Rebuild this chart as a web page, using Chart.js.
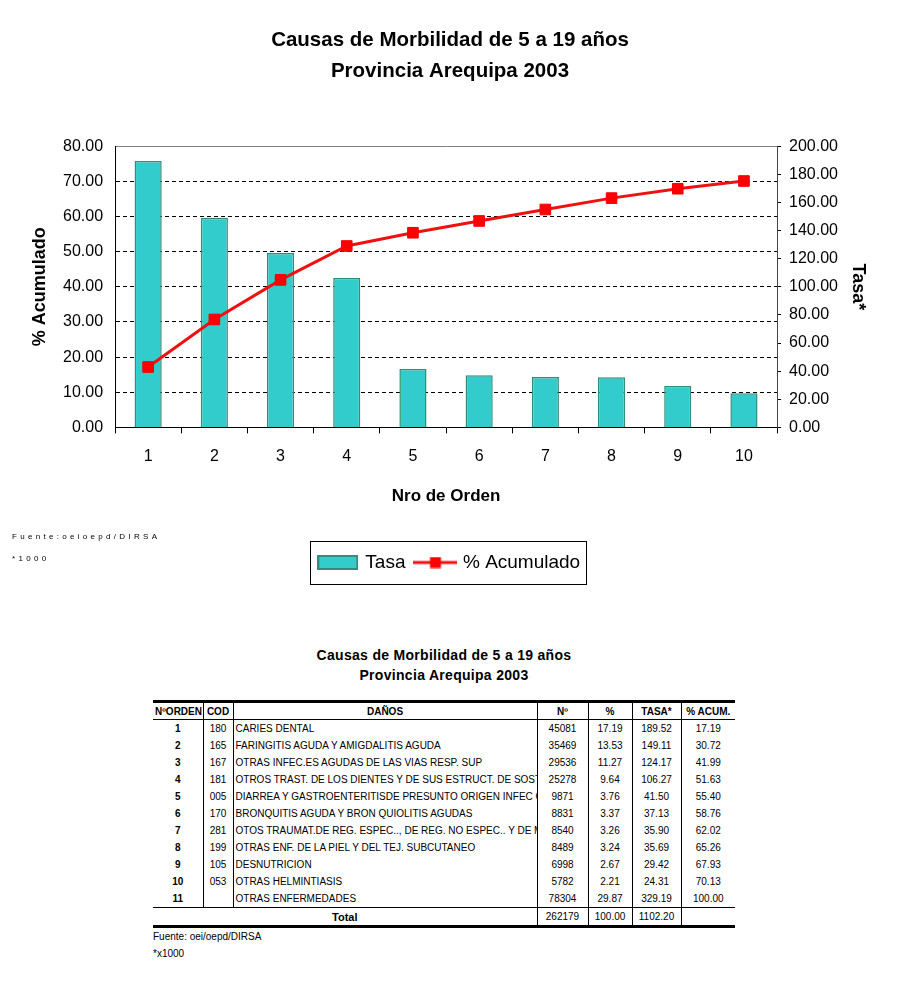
<!DOCTYPE html>
<html lang="es">
<head>
<meta charset="UTF-8">
<title>Causas de Morbilidad de 5 a 19 años</title>
<script src="https://cdn.jsdelivr.net/npm/chart.js"></script>
<style>
  body { margin: 0; background: #fff; font-family: "Liberation Sans", Arial, sans-serif; color: #000; }
  #pagina { position: relative; width: 900px; height: 1000px; }
  #zonaGrafico { position: absolute; left: 0; top: 0; width: 900px; height: 600px; }
  .nota { position: absolute; left: 12px; font-size: 8px; letter-spacing: 3.3px; line-height: 10px; }
  #tituloTabla { position: absolute; left: 153px; top: 645px; width: 582px; text-align: center;
                 font-weight: bold; font-size: 14px; letter-spacing: 0.3px; line-height: 20px; }
  #tabla { position: absolute; left: 153px; top: 700px; width: 582px; border-collapse: collapse;
           table-layout: fixed; font-size: 10px; }
  #tabla th, #tabla td { height: 17px; padding: 0 2px; white-space: nowrap; overflow: hidden;
                         text-align: center; }
  #tabla thead th { height: 16px; border-top: 3px solid #000; border-bottom: 1px solid #000; font-weight: bold; }
  #tabla th + th, #tabla td + td { border-left: 1px solid #000; }
  #tabla td.dano { text-align: left; }
  #tabla tbody td:first-child { font-weight: bold; }
  #tabla tfoot td { border-top: 1px solid #000; border-bottom: 3px solid #000; }
  #tabla tfoot td.total { font-weight: bold; font-size: 11px; }
  .pie { position: absolute; left: 153px; font-size: 10px; line-height: 14px; }
</style>
</head>
<body>
<div id="pagina">
  <div id="zonaGrafico"><canvas id="graficoMorbilidad"></canvas></div>
  <div class="nota" style="top:532px">Fuente:oeioepd/DIRSA</div>
  <div class="nota" style="top:554px">*1000</div>

  <div id="tituloTabla">Causas de Morbilidad de 5 a 19 años<br>Provincia Arequipa 2003</div>
  <table id="tabla">
    <colgroup>
      <col style="width:50px"><col style="width:30px"><col style="width:304px"><col style="width:51px">
      <col style="width:44px"><col style="width:49px"><col style="width:54px">
    </colgroup>
    <thead>
      <tr><th>NºORDEN</th><th>COD</th><th>DAÑOS</th><th>Nº</th><th>%</th><th>TASA*</th><th>% ACUM.</th></tr>
    </thead>
    <tbody id="cuerpoTabla"></tbody>
    <tfoot>
      <tr><td colspan="3" class="total">Total</td><td id="totCasos"></td><td id="totPct"></td><td id="totTasa"></td><td></td></tr>
    </tfoot>
  </table>
  <div class="pie" style="top:930px">Fuente: oei/oepd/DIRSA</div>
  <div class="pie" style="top:947px">*x1000</div>
</div>

<script>
  // datos de la tabla (las 10 primeras filas van al grafico)
  const nroOrden = [1, 2, 3, 4, 5, 6, 7, 8, 9, 10, 11];
  const codigos = ["180", "165", "167", "181", "005", "170", "281", "199", "105", "053", ""];
  const danos = [
    "CARIES DENTAL",
    "FARINGITIS AGUDA Y AMIGDALITIS AGUDA",
    "OTRAS INFEC.ES AGUDAS DE LAS VIAS RESP. SUP",
    "OTROS TRAST. DE LOS DIENTES Y DE SUS ESTRUCT. DE SOSTEN",
    "DIARREA Y GASTROENTERITISDE PRESUNTO ORIGEN INFEC CIOSO",
    "BRONQUITIS AGUDA Y BRON  QUIOLITIS AGUDAS",
    "OTOS TRAUMAT.DE REG. ESPEC.., DE REG. NO ESPEC.. Y DE MULTIPLES REG.",
    "OTRAS ENF. DE LA PIEL Y  DEL TEJ. SUBCUTANEO",
    "DESNUTRICION",
    "OTRAS HELMINTIASIS",
    "OTRAS ENFERMEDADES"
  ];
  const casos = [45081, 35469, 29536, 25278, 9871, 8831, 8540, 8489, 6998, 5782, 78304];
  const porcentaje = [17.19, 13.53, 11.27, 9.64, 3.76, 3.37, 3.26, 3.24, 2.67, 2.21, 29.87];
  const tasa = [189.52, 149.11, 124.17, 106.27, 41.50, 37.13, 35.90, 35.69, 29.42, 24.31, 329.19];
  const pctAcumulado = [17.19, 30.72, 41.99, 51.63, 55.40, 58.76, 62.02, 65.26, 67.93, 70.13, 100.00];
  const totales = { casos: 262179, pct: 100.00, tasa: 1102.20 };

  const colorBarra = "#33cccc";
  const bordeBarra = "#2f8f78";
  const rojo = "#ee1111";

  // tabla
  const cuerpo = document.getElementById("cuerpoTabla");
  nroOrden.forEach((n, i) => {
    const tr = document.createElement("tr");
    tr.innerHTML =
      "<td>" + n + "</td><td>" + codigos[i] + "</td><td class='dano'>" + danos[i] + "</td>" +
      "<td>" + casos[i] + "</td><td>" + porcentaje[i].toFixed(2) + "</td>" +
      "<td>" + tasa[i].toFixed(2) + "</td><td>" + pctAcumulado[i].toFixed(2) + "</td>";
    cuerpo.appendChild(tr);
  });
  document.getElementById("totCasos").textContent = totales.casos;
  document.getElementById("totPct").textContent = totales.pct.toFixed(2);
  document.getElementById("totTasa").textContent = totales.tasa.toFixed(2);

  // iconos de la leyenda
  function iconoTasa() {
    const c = document.createElement("canvas");
    c.width = 41; c.height = 15;
    const g = c.getContext("2d");
    g.fillStyle = colorBarra; g.fillRect(0, 0, 41, 15);
    g.strokeStyle = bordeBarra; g.lineWidth = 2; g.strokeRect(1, 1, 39, 13);
    return c;
  }
  function iconoLinea() {
    const c = document.createElement("canvas");
    c.width = 44; c.height = 12;
    const g = c.getContext("2d");
    g.strokeStyle = rojo; g.lineWidth = 3;
    g.beginPath(); g.moveTo(0, 6); g.lineTo(44, 6); g.stroke();
    g.fillStyle = "#ff0000"; g.fillRect(16.5, 0.5, 11, 11);
    return c;
  }

  // recuadro alrededor de la leyenda
  const marcoLeyenda = {
    id: "marcoLeyenda",
    afterDraw(chart) {
      const cajas = chart.legend.legendHitBoxes;
      if (!cajas || !cajas.length) return;
      const ult = cajas[cajas.length - 1];
      const izq = Math.round(cajas[0].left - 10);
      const der = Math.round(ult.left + ult.width + 6);
      const arriba = Math.round(cajas[0].top - 12);
      const alto = Math.round(cajas[0].height + 24);
      const g = chart.ctx;
      g.save();
      g.strokeStyle = "#000";
      g.lineWidth = 1;
      g.strokeRect(izq + 0.5, arriba + 0.5, der - izq, alto);
      g.restore();
    }
  };

  Chart.defaults.font.family = "'Liberation Sans', Arial, sans-serif";
  Chart.defaults.color = "#000";

  const ctx = document.getElementById("graficoMorbilidad").getContext("2d");
  new Chart(ctx, {
    data: {
      labels: nroOrden.slice(0, 10).map(String),
      datasets: [
        {
          type: "bar",
          label: "Tasa",
          data: tasa.slice(0, 10),
          yAxisID: "y1",
          backgroundColor: colorBarra,
          borderColor: bordeBarra,
          borderWidth: 1.5,
          barPercentage: 0.41,
          categoryPercentage: 1,
          order: 2
        },
        {
          type: "line",
          label: "% Acumulado",
          data: pctAcumulado.slice(0, 10),
          yAxisID: "y",
          borderColor: rojo,
          borderWidth: 3,
          pointStyle: "rect",
          pointRadius: 7.5,
          pointBackgroundColor: "#ff0000",
          pointBorderColor: "#ee0000",
          pointBorderWidth: 1,
          tension: 0,
          order: 1
        }
      ]
    },
    options: {
      responsive: true,
      maintainAspectRatio: false,
      animation: false,
      layout: { padding: { top: 0, left: 0, right: 0, bottom: 18 } },
      plugins: {
        title: {
          display: true,
          text: ["Causas de Morbilidad de 5 a 19 años", "Provincia Arequipa 2003"],
          font: { size: 20.5, weight: "bold", lineHeight: 1.52 },
          padding: { top: 24.5, bottom: 59.5 }
        },
        legend: {
          position: "bottom",
          labels: {
            usePointStyle: true,
            pointStyleWidth: 36,
            font: { size: 19 },
            padding: 12,
            sort: (a, b) => a.datasetIndex - b.datasetIndex,
            generateLabels: (chart) => {
              const items = Chart.defaults.plugins.legend.labels.generateLabels(chart);
              items.forEach((it) => {
                it.pointStyle = it.datasetIndex === 0 ? iconoTasa() : iconoLinea();
              });
              return items;
            }
          }
        },
        tooltip: { enabled: false }
      },
      scales: {
        x: {
          grid: { offset: true, drawOnChartArea: false, drawTicks: true, tickLength: 6, color: "#000" },
          border: { color: "#000", width: 1 },
          ticks: { font: { size: 16 }, padding: 14, autoSkip: false, maxRotation: 0 },
          title: {
            display: true,
            text: "Nro de Orden",
            font: { size: 17, weight: "bold" },
            padding: { top: 6, bottom: 34 }
          }
        },
        y: {
          position: "left",
          min: 0,
          max: 80,
          ticks: { stepSize: 10, font: { size: 16 }, padding: 12, callback: (v) => v.toFixed(2) },
          grid: {
            drawTicks: false,
            color: (c) => c.tick.value === 80 ? "#808080" : (c.tick.value === 0 ? "rgba(0,0,0,0)" : "#000")
          },
          border: {
            color: "#000",
            dash: (c) => (c.tick && c.tick.value > 0 && c.tick.value < 80) ? [4, 3] : []
          },
          title: {
            display: true,
            text: "% Acumulado",
            font: { size: 18, weight: "bold" },
            padding: { top: 29.2, bottom: 0.2 }
          }
        },
        y1: {
          position: "right",
          min: 0,
          max: 200,
          ticks: { stepSize: 20, font: { size: 16 }, padding: 8, callback: (v) => v.toFixed(2) },
          grid: { drawOnChartArea: false, drawTicks: true, tickLength: 4, color: "#000" },
          border: { color: "#444" },
          title: {
            display: true,
            text: "Tasa*",
            font: { size: 18, weight: "bold" },
            padding: { top: 31.2, bottom: 1.2 }
          }
        }
      }
    },
    plugins: [marcoLeyenda]
  });
</script>
</body>
</html>
